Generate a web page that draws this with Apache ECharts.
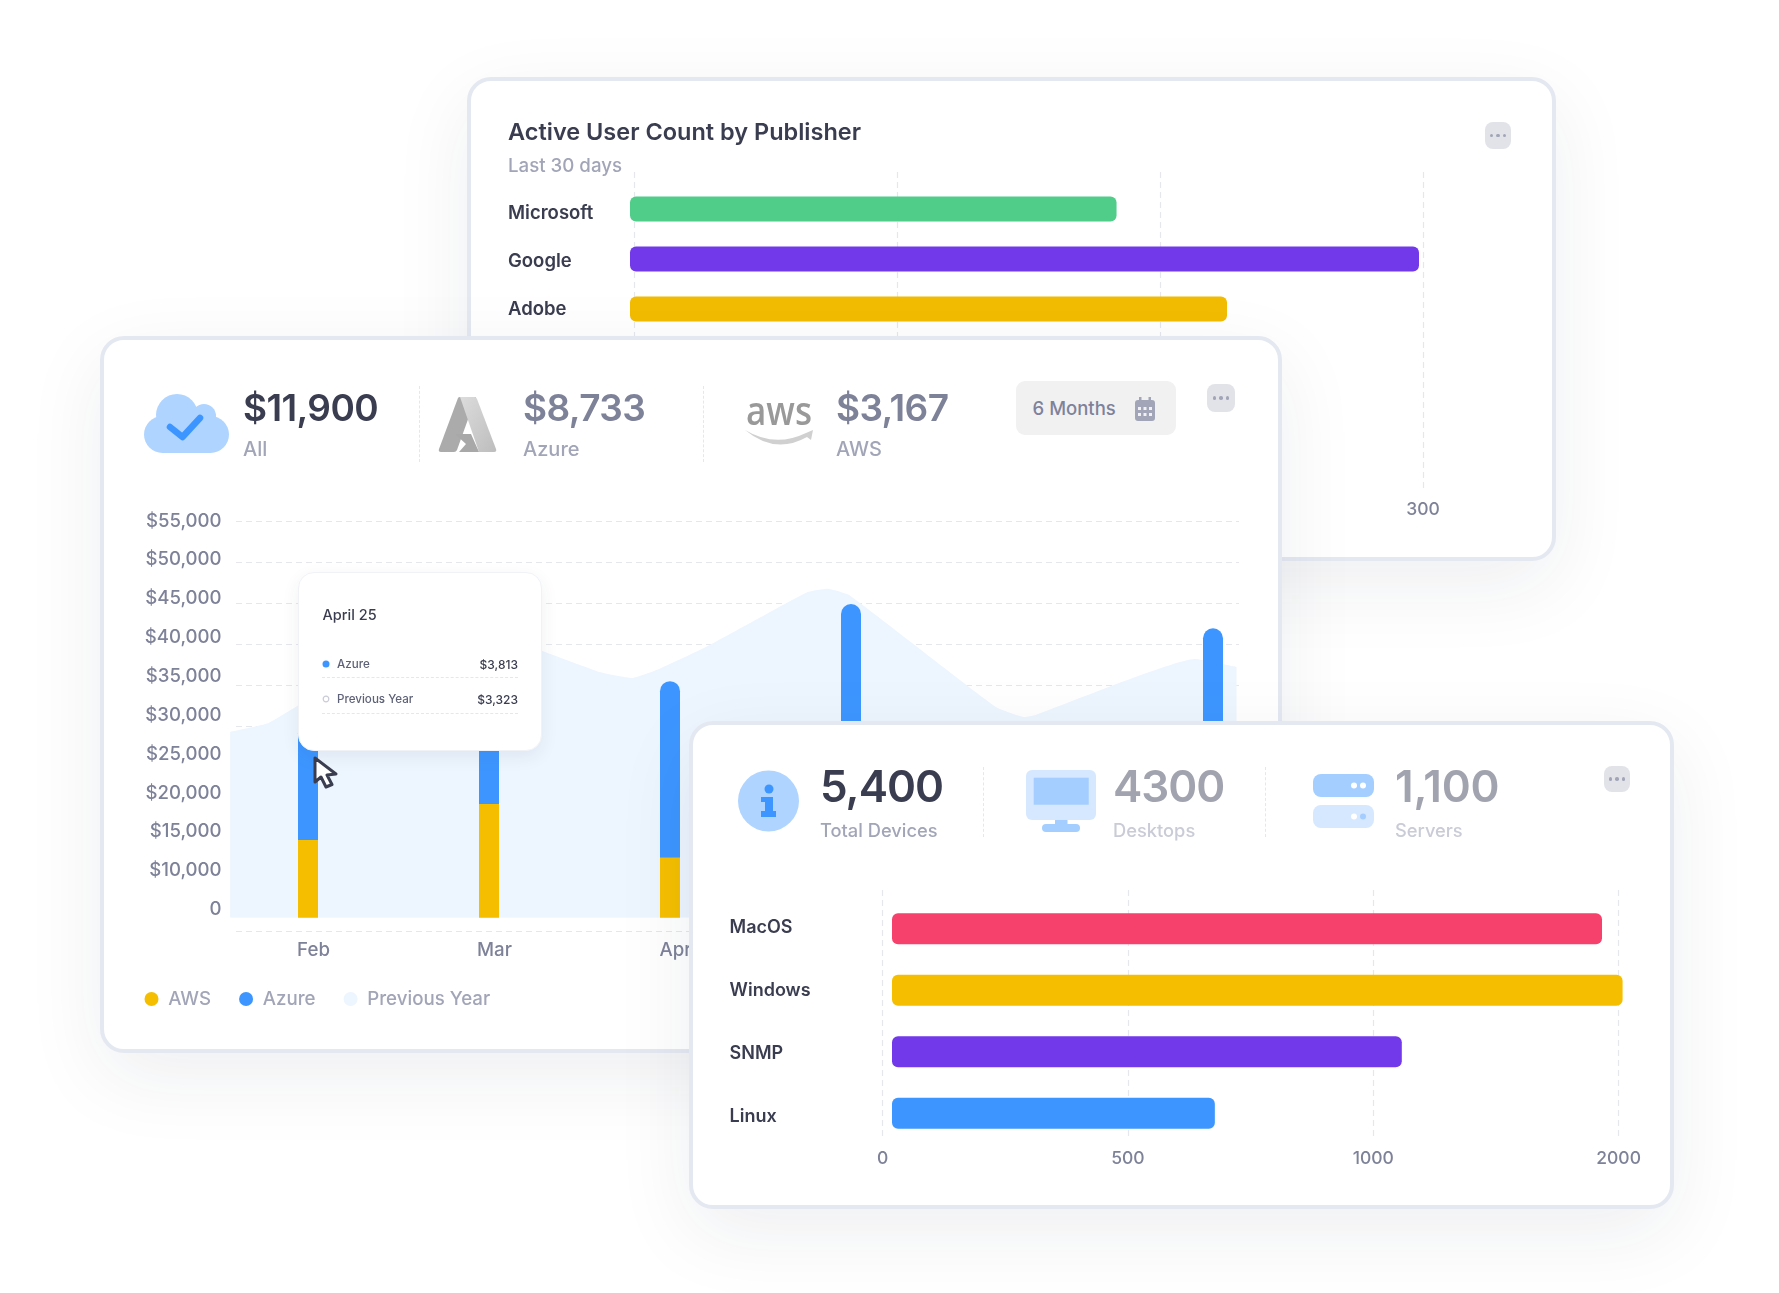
<!DOCTYPE html>
<html>
<head>
<meta charset="utf-8">
<title>Dashboard cards</title>
<script src="https://cdn.jsdelivr.net/npm/echarts@6/dist/echarts.min.js"></script>
<style>
  html, body { margin: 0; padding: 0; background: #fff; width: 1779px; height: 1293px; overflow: hidden; font-family: Inter, sans-serif; }
  .layer { position: absolute; left: 0; top: 0; width: 1779px; height: 1293px; }
  .chart { position: absolute; left: 0; top: 0; width: 1779px; height: 1293px; }
  .card { position: absolute; box-sizing: border-box; background: #fff; border: 4px solid #e4e8f1; border-radius: 24px; box-shadow: 0 24px 80px rgba(30, 40, 70, .075); }
  .t { position: absolute; transform: translateY(-50%); white-space: nowrap; font-weight: 500; }
  .big { font-size: 37px; font-weight: 600; letter-spacing: -.6px; }
  .big3 { font-size: 44px; font-weight: 600; letter-spacing: -1px; }
  .sub { font-size: 20px; color: #a1a5b7; }
  .dark { color: #3a3d50; }
  .mid { color: #7e8299; }
  .grey { color: #a1a3ae; }
  .pale { color: #c9cbd6; }
  .vdash { position: absolute; width: 0; border-left: 1.5px dashed #e6e7ed; }
  .dots { position: absolute; background: #e2e3e9; border-radius: 8px; display: flex; align-items: center; justify-content: center; gap: 3px; }
  .dots i { width: 3.5px; height: 3.5px; border-radius: 50%; background: #a1a5b7; }
  .pill { position: absolute; background: #f1f1f2; border-radius: 9px; }
  svg { position: absolute; overflow: visible; }
  .tip { position: absolute; box-sizing: border-box; background: #fff; border: 1px solid #f1f2f6; border-radius: 16px; box-shadow: 0 6px 18px rgba(40, 50, 90, .07); }
  .row { font-size: 11.6px; color: #5e6278; }
  .val { font-size: 12px; color: #3a3d50; transform: translate(-100%, -50%); }
  .hdash { position: absolute; height: 0; border-top: 1px dashed #e6e7ed; }
</style>
</head>
<body>

<!-- back card -->
<div class="layer">
  <div class="card" style="left:467px;top:77px;width:1089px;height:484px"></div>
  <div class="chart" id="publisherChart"></div>
  <div class="t dark" style="left:508px;top:131px;font-size:23.5px;font-weight:600">Active User Count by Publisher</div>
  <div class="t sub" style="left:508px;top:165px;font-size:18.7px">Last 30 days</div>
  <div class="dots" style="left:1485px;top:122px;width:26px;height:27px"><i></i><i></i><i></i></div>
</div>

<!-- cost card -->
<div class="layer">
  <div class="card" style="left:100px;top:336px;width:1182px;height:717px"></div>
  <div class="chart" id="costChart"></div>

  <svg style="left:144px;top:394px" width="85" height="59" viewBox="0 0 85 59">
    <g fill="#afd4ff"><circle cx="33" cy="21" r="21"/><circle cx="60" cy="22" r="12"/><rect x="0" y="22" width="85" height="37" rx="18.5"/></g>
    <polyline points="26,33 38.5,43 56,24" fill="none" stroke="#3d96ff" stroke-width="6.5" stroke-linecap="round" stroke-linejoin="round"/>
  </svg>
  <div class="t big dark" style="left:243px;top:407px">$11,900</div>
  <div class="t sub" style="left:243px;top:449px">All</div>
  <div class="vdash" style="left:419px;top:386px;height:76px"></div>

  <svg style="left:438.6px;top:396.7px" width="57" height="55" viewBox="0 0 57 55">
    <defs><linearGradient id="azr" x1="0" y1="0" x2="1" y2="1"><stop offset="0" stop-color="#dcdcdc"/><stop offset="1" stop-color="#bdbdbd"/></linearGradient></defs>
    <path d="M19,1 Q19.500,0 21,0 L37,0 L18,53 Q17,55 15,55 L2,55 Q-1,55 0,52 Z" fill="#ababab"/>
    <path d="M21,0 L36,0 Q37,0 38,2 L57,52 Q58,55 55,55 L40,55 Z" fill="url(#azr)"/>
    <path d="M16,37 L32,37 L40,55 L20,55 L27,47 Z" fill="#a8a8a8"/>
  </svg>
  <div class="t big mid" style="left:523px;top:407px">$8,733</div>
  <div class="t sub" style="left:523px;top:449px">Azure</div>
  <div class="vdash" style="left:703px;top:386px;height:76px"></div>

  <svg style="left:745px;top:395px" width="70" height="52" viewBox="0 0 70 52">
    <text x="1" y="30" font-family="Open Sans" font-size="39" font-weight="600" fill="#999" textLength="66" lengthAdjust="spacingAndGlyphs">aws</text>
    <path d="M0,35 Q30,53 61,38 L68,35 L66,45 L62,42 Q30,60 0,35 Z" fill="#d0d0d0"/>
  </svg>
  <div class="t big mid" style="left:836px;top:407px">$3,167</div>
  <div class="t sub" style="left:836px;top:449px">AWS</div>

  <div class="pill" style="left:1016px;top:381px;width:160px;height:54px"></div>
  <div class="t mid" style="left:1032.600px;top:408px;font-size:18.500px">6 Months</div>
  <svg style="left:1134.500px;top:397px" width="20" height="24" viewBox="0 0 20 24">
    <rect x="0" y="3" width="20" height="21" rx="3" fill="#a1a5b7"/><rect x="4" y="0" width="2.500" height="6" fill="#a1a5b7"/><rect x="13.500" y="0" width="2.500" height="6" fill="#a1a5b7"/>
    <g fill="#f1f1f2"><rect x="3" y="10" width="3" height="3"/><rect x="8.500" y="10" width="3" height="3"/><rect x="14" y="10" width="3" height="3"/><rect x="3" y="16" width="3" height="3"/><rect x="8.500" y="16" width="3" height="3"/><rect x="14" y="16" width="3" height="3"/></g>
  </svg>
  <div class="dots" style="left:1207px;top:384px;width:27.500px;height:28px"><i></i><i></i><i></i></div>

  <div class="tip" style="left:298px;top:572px;width:244px;height:179px"></div>
  <div class="t dark" style="left:322.500px;top:614px;font-size:14.500px">April 25</div>
  <svg style="left:322px;top:660px" width="8" height="8"><circle cx="4" cy="4" r="3.500" fill="#3d96ff"/></svg>
  <div class="t row" style="left:337px;top:664px">Azure</div>
  <div class="t val" style="left:518px;top:664px">$3,813</div>
  <div class="hdash" style="left:322px;top:677px;width:196px"></div>
  <svg style="left:322px;top:695px" width="8" height="8"><circle cx="4" cy="4" r="2.800" fill="#fff" stroke="#c9cbd6" stroke-width="1.200"/></svg>
  <div class="t row" style="left:337px;top:699px">Previous Year</div>
  <div class="t val" style="left:518px;top:699px">$3,323</div>
  <div class="hdash" style="left:322px;top:713px;width:196px"></div>

  <svg style="left:313px;top:756px" width="26" height="34" viewBox="0 0 26 34">
    <path d="M2,2 L2,26 L8,21 L13,31 L19,28.500 L14,19 L23,18 Z" fill="#fff" stroke="#3a3d50" stroke-width="3" stroke-linejoin="round"/>
  </svg>
</div>

<!-- devices card -->
<div class="layer">
  <div class="card" style="left:689px;top:721px;width:985px;height:488px"></div>
  <div class="chart" id="deviceChart"></div>

  <svg style="left:737.800px;top:770px" width="61" height="62" viewBox="0 0 61 62">
    <circle cx="30.500" cy="31" r="30.500" fill="#afd4ff"/>
    <circle cx="31" cy="19" r="4.500" fill="#3d96ff"/>
    <path d="M23,27 L35,27 L35,41 L38,41 L38,47 L23,47 L23,41 L27,41 L27,32 L23,32 Z" fill="#3d96ff"/>
  </svg>
  <div class="t big3 dark" style="left:820px;top:786px">5,400</div>
  <div class="t sub" style="left:820px;top:830px;font-size:18.3px">Total Devices</div>
  <div class="vdash" style="left:982.700px;top:767px;height:70px"></div>

  <svg style="left:1026px;top:770px" width="70" height="62" viewBox="0 0 70 62">
    <rect x="0" y="0" width="70" height="50" rx="6" fill="#d6e8ff"/>
    <rect x="7.700" y="7.700" width="55" height="27" fill="#a3ceff"/>
    <rect x="29" y="50" width="12.500" height="6" fill="#a3ceff"/>
    <rect x="16" y="54" width="38" height="8" rx="4" fill="#a3ceff"/>
  </svg>
  <div class="t big3 grey" style="left:1113px;top:786px">4300</div>
  <div class="t sub pale" style="left:1113px;top:830px;font-size:18.3px">Desktops</div>
  <div class="vdash" style="left:1265px;top:767px;height:70px"></div>

  <svg style="left:1313px;top:774px" width="61" height="54" viewBox="0 0 61 54">
    <rect x="0" y="0" width="61" height="23" rx="8" fill="#a3ceff"/>
    <rect x="0" y="31" width="61" height="23" rx="8" fill="#d6e8ff"/>
    <circle cx="41" cy="11.500" r="3" fill="#fff"/><circle cx="50" cy="11.500" r="3" fill="#fff"/>
    <circle cx="41" cy="42.500" r="3" fill="#fff"/><circle cx="50" cy="42.500" r="3" fill="#a3ceff"/>
  </svg>
  <div class="t big3 grey" style="left:1395px;top:786px;letter-spacing:-.2px">1,100</div>
  <div class="t sub pale" style="left:1395px;top:830px;font-size:18.3px">Servers</div>
  <div class="dots" style="left:1604px;top:766px;width:26px;height:26px"><i></i><i></i><i></i></div>
</div>

<script>
// publisher card
const publishers = ['Microsoft', 'Google', 'Adobe']
const publisherUsers = [185, 300, 227]
const publisherTicks = [0, 100, 200, 300]

// cost card
const months = ['Feb', 'Mar', 'Apr', 'May', 'Jun', 'Jul']
const awsCost = [10000, 14600, 7700, 12000, 12000, 10000]
const azureCost = [15000, 14400, 22700, 28300, 8000, 27200]
// previous year outline, x is a position on the month axis
const prevYearPos = [-0.43, -0.22, -0.05, 0.62, 0.95, 1.29, 1.61, 1.79, 1.94, 2.22, 2.76, 2.87, 2.99, 3.8, 3.96, 4.02, 4.9, 5.13]
const prevYearCost = [23900, 25000, 27330, 35700, 36700, 34300, 31570, 30800, 31960, 35040, 41850, 42280, 41470, 27080, 25790, 26050, 33240, 32220]
const costTicks = ['0', '$10,000', '$15,000', '$20,000', '$25,000', '$30,000', '$35,000', '$40,000', '$45,000', '$50,000', '$55,000']

// devices card
const deviceTypes = ['MacOS', 'Windows', 'SNMP', 'Linux']
const deviceCounts = [1447, 1489, 1039, 658] // in axis units, the last tick is labelled 2000 but sits at 1500
const deviceTicks = ['0', '500', '1000', '2000']

const axisText = { color: '#7e8299', fontFamily: 'Inter', fontWeight: 500, fontSize: 17.5 }
const rowText = { color: '#3a3d50', fontFamily: 'Inter', fontWeight: 600, fontSize: 18 }
const dashedLine = { show: true, lineStyle: { color: '#e6e7ed', type: [6, 4], width: 1.2 } }

// the bars start a little left of the zero line, so they get their own grid
// (row labels don't sit on the bar centres either)
const publisherChart = echarts.init(document.getElementById('publisherChart'))
const publisherColors = ['#50cd89', '#7239ea', '#f1bc00']
publisherChart.setOption({
  animation: false,
  grid: [
    { left: 634, width: 789, top: 172, height: 318 },
    { left: 630, width: 789, top: 184, height: 150 },
    { left: 634, width: 789, top: 190, height: 143.4 }
  ],
  xAxis: [
    {
      gridIndex: 0, type: 'value', min: 0, max: 300, interval: 100,
      axisLine: { show: false }, axisTick: { show: false }, splitLine: dashedLine,
      axisLabel: { ...axisText, margin: 11, formatter: (v) => String(publisherTicks[v / 100]) }
    },
    { gridIndex: 1, type: 'value', min: 0, max: 300, show: false },
    { gridIndex: 2, type: 'value', show: false }
  ],
  yAxis: [
    { gridIndex: 0, type: 'category', data: [], show: false },
    { gridIndex: 1, type: 'category', data: publishers, inverse: true, show: false },
    {
      gridIndex: 2, type: 'category', data: publishers, inverse: true,
      axisLine: { show: false }, axisTick: { show: false },
      axisLabel: { ...rowText, fontSize: 18.5, align: 'left', margin: 126 }
    }
  ],
  series: [{
    type: 'bar', xAxisIndex: 1, yAxisIndex: 1, barWidth: 25,
    data: publisherUsers.map((v, i) => ({ value: v, itemStyle: { color: publisherColors[i], borderRadius: 6 } }))
  }]
})

// gridlines, tick labels and marks don't line up in this one, hence three grids
const costChart = echarts.init(document.getElementById('costChart'))
costChart.setOption({
  animation: false,
  legend: {
    left: 139.5, top: 984.5, itemWidth: 14, itemHeight: 14, itemGap: 28, icon: 'circle',
    data: ['AWS', 'Azure', 'Previous Year'],
    textStyle: { color: '#a1a5b7', fontFamily: 'Inter', fontWeight: 500, fontSize: 18.7, padding: [0, 0, 0, 4.7] }
  },
  grid: [
    { left: 236, width: 1003, top: 521.7, height: 410 },
    { left: 236, width: 1003, top: 521, height: 388.5 },
    { left: 217.5, width: 1086, top: 489.7, height: 428 }
  ],
  xAxis: [
    { gridIndex: 0, type: 'value', show: false },
    { gridIndex: 1, type: 'value', show: false },
    {
      gridIndex: 2, type: 'category', data: months,
      axisLine: { show: false }, axisTick: { show: false },
      axisLabel: { ...axisText, fontSize: 18.7, margin: 23, padding: [0, 0, 0, 11] }
    },
    { gridIndex: 2, type: 'value', min: -0.5, max: 5.5, position: 'top', show: false }
  ],
  yAxis: [
    {
      gridIndex: 0, type: 'value', min: 0, max: 10, interval: 1,
      axisLine: { show: false }, axisTick: { show: false }, axisLabel: { show: false }, splitLine: dashedLine
    },
    {
      gridIndex: 1, type: 'category', data: costTicks, boundaryGap: false,
      axisLine: { show: false }, axisTick: { show: false },
      axisLabel: { ...axisText, fontSize: 18.6, margin: 14.4, interval: 0 }
    },
    { gridIndex: 2, type: 'value', min: 0, max: 55000, show: false, splitLine: { show: false } }
  ],
  series: [
    {
      name: 'Previous Year', type: 'line', xAxisIndex: 3, yAxisIndex: 2, z: 1,
      data: prevYearPos.map((p, i) => [p, prevYearCost[i]]),
      smooth: 0.12, showSymbol: false, symbol: 'none',
      lineStyle: { width: 0 }, itemStyle: { color: '#edf5fe' }, areaStyle: { color: '#edf5fe', opacity: 1 }
    },
    {
      name: 'AWS', type: 'bar', stack: 'cost', xAxisIndex: 2, yAxisIndex: 2, barWidth: 20,
      data: awsCost, itemStyle: { color: '#f5bf00' }
    },
    {
      name: 'Azure', type: 'bar', stack: 'cost', xAxisIndex: 2, yAxisIndex: 2, barWidth: 20,
      data: azureCost, itemStyle: { color: '#3d96ff', borderRadius: [10, 10, 0, 0] }
    }
  ]
})

const deviceChart = echarts.init(document.getElementById('deviceChart'))
const deviceColors = ['#f5416c', '#f5bf00', '#7239ea', '#3d96ff']
deviceChart.setOption({
  animation: false,
  grid: [
    { left: 882.6, width: 736, top: 890, height: 250 },
    { left: 892, width: 736, top: 898, height: 246 },
    { left: 882.6, width: 736, top: 896, height: 252 }
  ],
  xAxis: [
    {
      gridIndex: 0, type: 'value', min: 0, max: 1500, interval: 500,
      axisLine: { show: false }, axisTick: { show: false }, splitLine: dashedLine,
      axisLabel: { ...axisText, margin: 10, formatter: (v) => deviceTicks[v / 500] }
    },
    { gridIndex: 1, type: 'value', min: 0, max: 1500, show: false },
    { gridIndex: 2, type: 'value', show: false }
  ],
  yAxis: [
    { gridIndex: 0, type: 'category', data: [], show: false },
    { gridIndex: 1, type: 'category', data: deviceTypes, inverse: true, show: false },
    {
      gridIndex: 2, type: 'category', data: deviceTypes, inverse: true,
      axisLine: { show: false }, axisTick: { show: false },
      axisLabel: { ...rowText, align: 'left', margin: 153 }
    }
  ],
  series: [{
    type: 'bar', xAxisIndex: 1, yAxisIndex: 1, barWidth: 31,
    data: deviceCounts.map((v, i) => ({ value: v, itemStyle: { color: deviceColors[i], borderRadius: 6 } }))
  }]
})
</script>
</body>
</html>
